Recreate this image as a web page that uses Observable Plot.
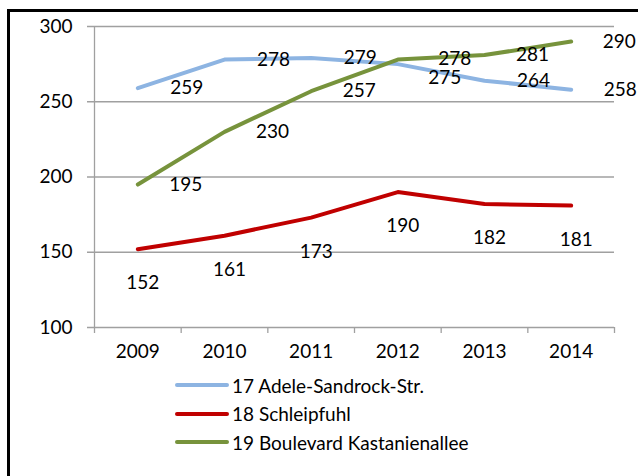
<!DOCTYPE html>
<html>
<head>
<meta charset="utf-8">
<script src="https://cdn.jsdelivr.net/npm/d3@7"></script>
<script src="https://cdn.jsdelivr.net/npm/@observablehq/plot@0.6"></script>
<style>
  html, body { margin: 0; padding: 0; background: #fff; }
  #wrap { position: relative; width: 638px; height: 476px; overflow: hidden; font-family: Lato, "Open Sans", sans-serif; }
  #frame { position: absolute; left: 7px; top: 9px; width: 700px; height: 600px; border: 3px solid #000; box-sizing: border-box; }
  #chart { position: absolute; left: 0; top: 0; }
  #legend { position: absolute; left: 174px; top: 371px; font-size: 19px; color: #000; }
  .row { display: flex; align-items: center; height: 28.5px; }
  .row svg { margin-right: 2px; }
</style>
</head>
<body>
<div id="wrap">
  <div id="frame"></div>
  <div id="chart"></div>
  <div id="legend"></div>
</div>
<script>
const years = [2009, 2010, 2011, 2012, 2013, 2014];
const seriesNames = ["17 Adele-Sandrock-Str.", "18 Schleipfuhl", "19 Boulevard Kastanienallee"];
const adele = [259, 278, 279, 275, 264, 258];
const schleipfuhl = [152, 161, 173, 190, 182, 181];
const kastanien = [195, 230, 257, 278, 281, 290];
const colors = ["#8DB4E2", "#C00000", "#77933C"];
const yTicks = [100, 150, 200, 250, 300];

const rows = (vals, name) => years.map((y, i) => ({year: y, value: vals[i], name}));
const dA = rows(adele, seriesNames[0]);
const dS = rows(schleipfuhl, seriesNames[1]);
const dK = rows(kastanien, seriesNames[2]);

const bounds = years.map(y => y - 0.5).concat([years[years.length - 1] + 0.5]);
const x0 = bounds[0], x1 = bounds[bounds.length - 1];

const grid = "#a0a0a0";
const fs = 19;

const chart = Plot.plot({
  width: 638,
  height: 370,
  marginLeft: 94,
  marginRight: 24,
  marginTop: 26,
  marginBottom: 43,
  style: {fontFamily: "Lato, 'Open Sans', sans-serif", fontSize: fs + "px", background: "transparent"},
  x: {domain: [x0, x1]},
  y: {domain: [100, 300], axis: null},
  marks: [
    Plot.ruleY(yTicks, {x1: x0, x2: x1, stroke: grid, strokeWidth: 1.3, insetLeft: -7}),
    Plot.ruleX([x0], {y1: 300, y2: 100, stroke: grid, strokeWidth: 1.3}),
    Plot.axisX({ticks: bounds, tickSize: 6, tickFormat: () => "", stroke: grid, strokeWidth: 1.3, label: null}),
    Plot.text(yTicks, {y: d => d, frameAnchor: "left", textAnchor: "end", dx: -22, fill: "#000", fontSize: fs}),
    Plot.text(years, {x: d => d, frameAnchor: "bottom", dy: 30, fill: "#000", fontSize: fs, text: d => String(d)}),
    Plot.line(dA, {x: "year", y: "value", stroke: colors[0], strokeWidth: 4, strokeLinecap: "round", strokeLinejoin: "round"}),
    Plot.line(dS, {x: "year", y: "value", stroke: colors[1], strokeWidth: 4, strokeLinecap: "round", strokeLinejoin: "round"}),
    Plot.line(dK, {x: "year", y: "value", stroke: colors[2], strokeWidth: 4, strokeLinecap: "round", strokeLinejoin: "round"}),
    Plot.text(dA.filter(d => d.year !== 2012), {x: "year", y: "value", text: d => String(d.value), dx: 49, fill: "#000", fontSize: fs}),
    Plot.text(dA.filter(d => d.year === 2012), {x: "year", y: "value", text: d => String(d.value), dx: 47, dy: 14, fill: "#000", fontSize: fs}),
    Plot.text(dK.filter(d => d.year !== 2012), {x: "year", y: "value", text: d => String(d.value), dx: 48, fill: "#000", fontSize: fs}),
    Plot.text(dK.filter(d => d.year === 2012), {x: "year", y: "value", text: d => String(d.value), dx: 57, dy: -1, fill: "#000", fontSize: fs}),
    Plot.text(dS, {x: "year", y: "value", text: d => String(d.value), dx: 5, dy: 34, fill: "#000", fontSize: fs})
  ]
});
document.getElementById("chart").appendChild(chart);

const legend = document.getElementById("legend");
seriesNames.forEach((n, i) => {
  const row = document.createElement("div");
  row.className = "row";
  row.innerHTML = `<svg width="56" height="8"><line x1="3" y1="4" x2="53" y2="4" stroke="${colors[i]}" stroke-width="4" stroke-linecap="round"/></svg><span>${n}</span>`;
  legend.appendChild(row);
});
</script>
</body>
</html>
